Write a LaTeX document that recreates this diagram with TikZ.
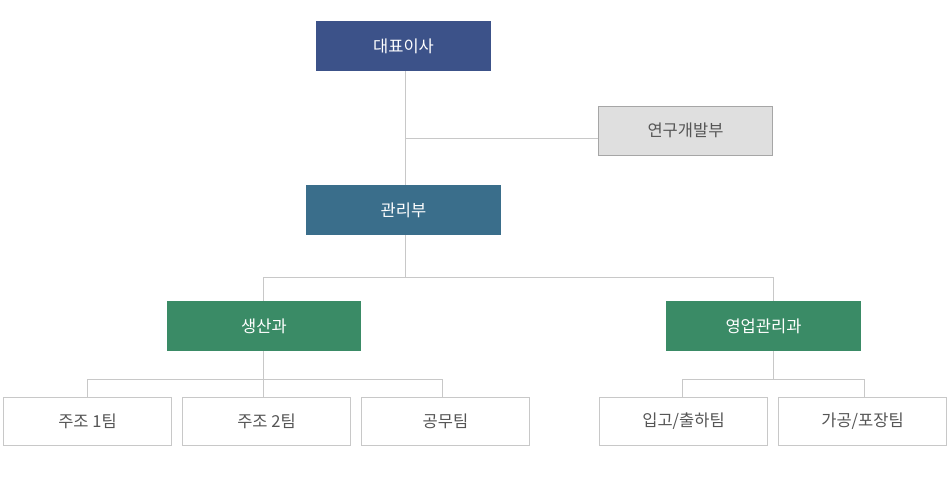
\documentclass[tikz,border=0pt]{standalone}
\usepackage{fontspec}
\setmainfont{Noto Sans CJK KR}
\definecolor{ceo}{HTML}{3C5289}
\definecolor{mgmt}{HTML}{3A6E8B}
\definecolor{dept}{HTML}{3A8B66}
\definecolor{rdfill}{HTML}{DFDFDF}
\definecolor{rdline}{HTML}{A6A6A6}
\definecolor{wline}{HTML}{C8C8C8}
\definecolor{txt}{HTML}{555555}
\begin{document}
\begin{tikzpicture}[x=1pt,y=-1pt,
  box/.style={rectangle,inner sep=0pt,font=\fontsize{16.5}{19}\selectfont},
  darkbox/.style={box,fill=#1,text=white,minimum width=194pt,minimum height=50pt},
  rdbox/.style={box,fill=rdfill,draw=rdline,line width=1pt,text=txt,minimum width=174pt,minimum height=49pt},
  teambox/.style={box,fill=white,draw=wline,line width=1pt,text=txt,minimum width=168pt,minimum height=48pt},
  conn/.style={draw=wline,line width=1pt}]
\useasboundingbox (0,0) rectangle (951,501);
\fill[white] (0,0) rectangle (951,501);
% nodes
\node[darkbox=ceo,minimum width=175pt] (ceo) at (403.5,46) {대표이사};
\node[rdbox] (rd) at (685.5,130.5) {연구개발부};
\node[darkbox=mgmt,minimum width=195pt] (mgmt) at (403.5,210) {관리부};
\node[darkbox=dept] (prod) at (264,326) {생산과};
\node[darkbox=dept,minimum width=195pt] (sales) at (763.5,326) {영업관리과};
\node[teambox] (t1) at (87.5,421.5) {주조 1팀};
\node[teambox] (t2) at (266.5,421.5) {주조 2팀};
\node[teambox] (t3) at (445.5,421.5) {공무팀};
\node[teambox] (t4) at (683.5,421.5) {입고/출하팀};
\node[teambox] (t5) at (862.5,421.5) {가공/포장팀};
% coordinates
\coordinate (j1) at (405,138);
\coordinate (j2a) at (405,277);
\coordinate (b1l) at (263,277);
\coordinate (b1r) at (773,277);
\coordinate (p1) at (263,379);
\coordinate (pl) at (87,379);
\coordinate (pr) at (442,379);
\coordinate (s1) at (773,379);
\coordinate (sl) at (682,379);
\coordinate (sr) at (864,379);
% connectors
\draw[conn] (ceo.south -| j1) -- (mgmt.north -| j1);
\draw[conn] (j1) -- (j1 -| rd.west);
\draw[conn] (mgmt.south -| j2a) -- (j2a);
\draw[conn] (b1l |- prod.north) -- (b1l) -- (b1r) -- (b1r |- sales.north);
\draw[conn] (prod.south -| p1) -- (t2.north -| p1);
\draw[conn] (pl |- t1.north) -- (pl) -- (pr) -- (pr |- t3.north);
\draw[conn] (sales.south -| s1) -- (s1);
\draw[conn] (sl |- t4.north) -- (sl) -- (sr) -- (sr |- t5.north);
\end{tikzpicture}
\end{document}
